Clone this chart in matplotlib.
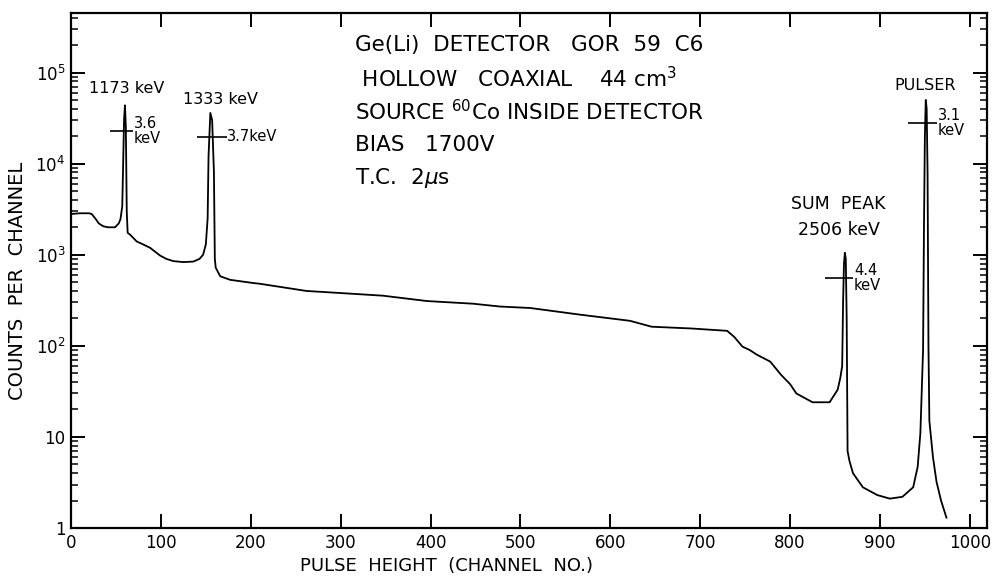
import numpy as np
import matplotlib.pyplot as plt

# spectrum (channel, counts per channel)
channel = [0, 10, 20, 23, 27, 31, 36, 41, 49, 53, 55, 57, 58, 59, 60, 61, 62, 63,
           66, 73, 80, 88, 99, 106, 114, 125, 136, 143, 147, 150, 152, 153, 155, 157,
           159, 160, 161, 166, 177, 202, 210, 262, 299, 347, 396, 447, 477, 511,
           566, 600, 622, 646, 690, 730, 738, 747, 755, 763, 778, 790, 800, 807,
           825, 844, 853, 856, 858, 859, 860, 861, 862, 863, 864, 866, 870, 881,
           897, 911, 925, 937, 942, 945, 948, 949, 950, 951, 952, 953, 954, 955,
           959, 963, 968, 974]
counts = [2800, 2850, 2850, 2800, 2500, 2200, 2050, 2000, 2000, 2200, 2450, 3400,
          10000, 30000, 43600, 25000, 3000, 1740, 1650, 1400, 1300, 1190, 980, 900,
          850, 830, 840, 900, 1000, 1300, 2500, 12000, 36000, 30000, 8000, 900, 720,
          580, 530, 490, 480, 400, 380, 355, 310, 290, 270, 260, 220, 200, 188, 162,
          155, 146, 125, 98, 90, 80, 67, 48, 38, 30, 24, 24, 33, 45, 60, 300, 800,
          1050, 900, 200, 7, 5.5, 4.0, 2.8, 2.3, 2.1, 2.2, 2.8, 4.7, 11, 90, 2000,
          20000, 50000, 40000, 8000, 100, 15, 6, 3.2, 2.0, 1.3]

# peak labels and FWHM markers
peak_names = ["1173 keV", "1333 keV", "PULSER"]
peak_name_x = [62, 166, 950]
peak_name_y = [66000, 51000, 72000]

fwhm_text = ["3.6\nkeV", "3.7keV", "4.4\nkeV", "3.1\nkeV"]
fwhm_y = [23000, 19800, 550, 28000]
fwhm_x0 = [43, 140, 839, 931]
fwhm_x1 = [69, 173, 870, 963]

info_lines = ["Ge(Li)  DETECTOR   GOR  59  C6",
              " HOLLOW   COAXIAL    44 cm$^3$",
              "SOURCE $^{60}$Co INSIDE DETECTOR",
              "BIAS   1700V",
              "T.C.  2$\\mu$s"]

x_ticks = [0, 100, 200, 300, 400, 500, 600, 700, 800, 900, 1000]
y_ticks = [1, 10, 100, 1000, 10000, 100000]
y_tick_labels = ["1", "10", "$10^2$", "$10^3$", "$10^4$", "$10^5$"]

fig = plt.figure(figsize=(10.06, 5.78), dpi=100)
ax = fig.add_axes([0.0706, 0.0865, 0.9104, 0.891])

ax.plot(channel, counts, color='black', lw=1.3)
ax.set_yscale('log')
ax.set_xlim(0, 1019)
ax.set_ylim(1, 4.5e5)

ax.set_xticks(x_ticks)
ax.set_xticklabels([str(t) for t in x_ticks], fontsize=12)
ax.set_yticks(y_ticks)
ax.set_yticklabels(y_tick_labels, fontsize=12)
ax.tick_params(axis='both', which='major', direction='in', length=10, width=1.4,
               top=True, right=True, pad=4)
ax.tick_params(axis='y', which='minor', direction='in', length=5, width=1.1, right=True)
for s in ax.spines.values():
    s.set_linewidth(1.6)

ax.set_xlabel("PULSE  HEIGHT  (CHANNEL  NO.)", fontsize=13)
ax.xaxis.set_label_coords(0.41, -0.056)
ax.set_ylabel("COUNTS  PER  CHANNEL", fontsize=14)
ax.yaxis.set_label_coords(-0.048, 0.48)

for name, x, y in zip(peak_names, peak_name_x, peak_name_y):
    ax.text(x, y, name, ha='center', va='center', fontsize=11.5)

ax.text(854, 3640, "SUM  PEAK", ha='center', va='center', fontsize=12.5)
ax.text(854, 1880, "2506 keV", ha='center', va='center', fontsize=12.5)

ax.hlines(fwhm_y, fwhm_x0, fwhm_x1, color='black', lw=1.2)
for t, x, y in zip(fwhm_text, fwhm_x1, fwhm_y):
    ax.text(x + 1, y, t, ha='left', va='center', fontsize=10.5, linespacing=1.0)

for i, line in enumerate(info_lines):
    ax.text(0.31, 0.938 - i * 0.0645, line, transform=ax.transAxes,
            ha='left', va='center', fontsize=15.5)

fig.savefig("out.png", dpi=100)
